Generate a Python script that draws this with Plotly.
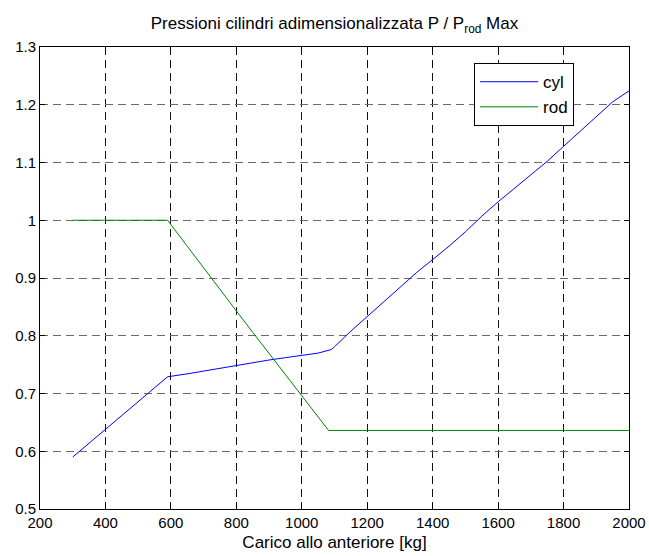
import plotly.graph_objects as go

# ---- data ----
cyl_x = [300, 350, 400, 450, 500, 550, 590, 650, 700, 750, 800, 850, 900, 950,
         1000, 1050, 1090, 1100, 1150, 1200, 1250, 1300, 1350, 1400, 1450, 1500,
         1550, 1600, 1650, 1700, 1750, 1800, 1850, 1900, 1950, 2000]
cyl_y = [0.590, 0.614, 0.639, 0.663, 0.687, 0.711, 0.729, 0.734, 0.739, 0.744,
         0.749, 0.753, 0.758, 0.762, 0.766, 0.770, 0.776, 0.781, 0.808, 0.833,
         0.858, 0.884, 0.909, 0.932, 0.955, 0.980, 1.007, 1.032, 1.055, 1.079,
         1.102, 1.128, 1.154, 1.180, 1.205, 1.224]

rod_x = [300, 590, 650, 700, 750, 800, 850, 900, 950, 1000, 1050, 1082, 2000]
rod_y = [1.000, 1.000, 0.955, 0.917, 0.880, 0.843, 0.806, 0.769, 0.732, 0.695,
         0.658, 0.636, 0.636]

x_ticks = [200, 400, 600, 800, 1000, 1200, 1400, 1600, 1800, 2000]
y_ticks = [0.5, 0.6, 0.7, 0.8, 0.9, 1.0, 1.1, 1.2, 1.3]
y_tick_text = ["0.5", "0.6", "0.7", "0.8", "0.9", "1", "1.1", "1.2", "1.3"]

FONT = "Liberation Sans, Arial, sans-serif"

fig = go.Figure()
fig.add_trace(go.Scatter(x=cyl_x, y=cyl_y, mode="lines", name="cyl",
                         line=dict(color="#0000ff", width=1)))
fig.add_trace(go.Scatter(x=rod_x, y=rod_y, mode="lines", name="rod",
                         line=dict(color="#008000", width=1)))

axis_common = dict(showline=True, linecolor="black", linewidth=1, mirror="ticks",
                   ticks="inside", ticklen=5, tickcolor="black",
                   showgrid=True, griddash="8px,5px", gridwidth=1,
                   zeroline=False, automargin=False,
                   tickfont=dict(family=FONT, size=15, color="black"))

fig.update_layout(
    width=649, height=556,
    margin=dict(l=40, r=20, t=47, b=47, autoexpand=False),
    paper_bgcolor="white", plot_bgcolor="white",
    font=dict(family=FONT, size=15, color="black"),
    title=dict(text="Pressioni cilindri adimensionalizzata P / P<sub>rod</sub> Max",
               x=0.5, xref="paper", xanchor="center", y=0.958, yanchor="middle",
               font=dict(family=FONT, size=17, color="black")),
    xaxis=dict(range=[200, 2000], tickvals=x_ticks, gridcolor="#111111",
               title=dict(text="Carico allo anteriore [kg]", standoff=6,
                          font=dict(family=FONT, size=17)),
               **axis_common),
    yaxis=dict(range=[0.5, 1.3], tickvals=y_ticks, ticktext=y_tick_text,
               gridcolor="#6a6a6a", **axis_common),
    legend=dict(x=0.737, y=0.965, xanchor="left", yanchor="top",
                bgcolor="white", bordercolor="black", borderwidth=1,
                itemwidth=58, font=dict(family=FONT, size=17)),
    showlegend=True,
)

fig.write_html("out.html")
